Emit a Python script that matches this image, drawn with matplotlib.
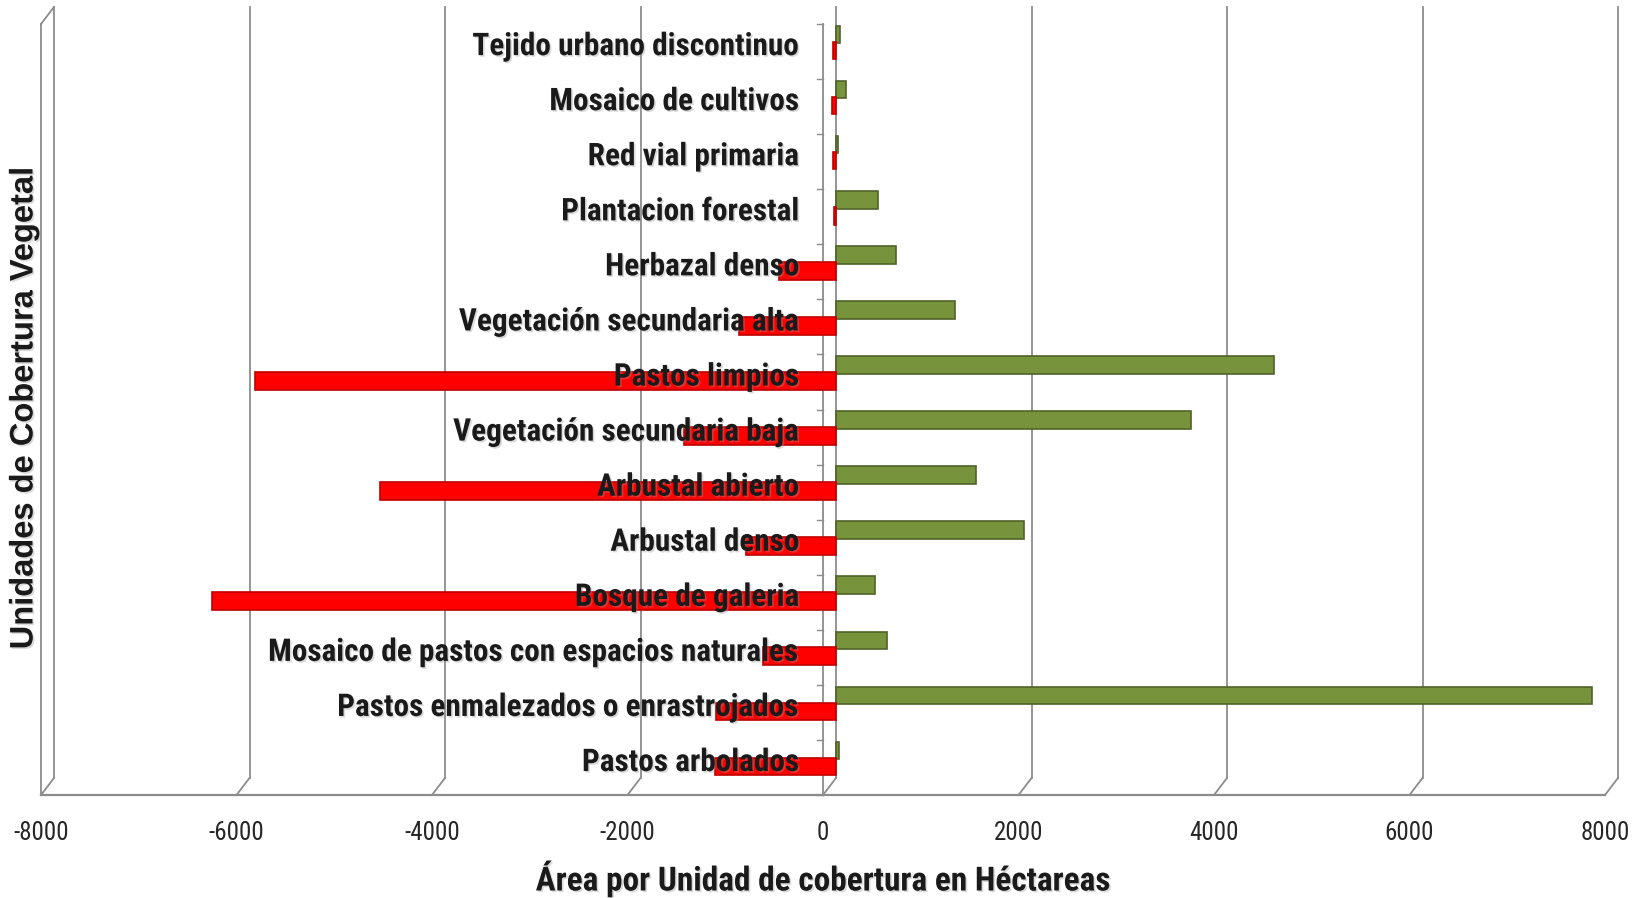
import matplotlib
matplotlib.use('Agg')
import matplotlib.pyplot as plt
import matplotlib.patheffects as pe
from matplotlib.transforms import ScaledTranslation

# categorias (de arriba hacia abajo como en la figura)
categorias = ['Tejido urbano discontinuo', 'Mosaico de cultivos', 'Red vial primaria',
              'Plantacion forestal', 'Herbazal denso', 'Vegetación secundaria alta',
              'Pastos limpios', 'Vegetación secundaria baja', 'Arbustal abierto',
              'Arbustal denso', 'Bosque de galeria', 'Mosaico de pastos con espacios naturales',
              'Pastos enmalezados o enrastrojados', 'Pastos arbolados']
ganancia = [40, 100, 20, 430, 610, 1220, 4480, 3630, 1430, 1920, 400, 520, 7730, 30]
perdida = [-30, -40, -30, -20, -580, -990, -5940, -1550, -4660, -925, -6380, -750, -1230, -1240]
ticks_x = [-8000, -6000, -4000, -2000, 0, 2000, 4000, 6000, 8000]

narrow = ['Roboto Condensed', 'DejaVu Sans']
gris = '#8c8c8c'
sombra = [pe.SimplePatchShadow(offset=(1.2, -1.2), shadow_rgbFace='#9a9a9a', alpha=0.35), pe.Normal()]

fig = plt.figure(figsize=(16.41, 8.98), dpi=100)
ax = fig.add_axes([54/1641, 120/898, 1564/1641, 771/898])

n = len(categorias)
pos = [n - 1 - i for i in range(n)]
ax.barh(pos, ganancia, height=0.32, left=0, color='#77933c', edgecolor='#4f6228',
        linewidth=1.2, zorder=3)
ax.barh([p - 0.29 for p in pos], perdida, height=0.32, left=0, color='#ff0000',
        edgecolor='#c00000', linewidth=1.2, zorder=4)

for p, cat in zip(pos, categorias):
    ax.text(-370, p - 0.21, cat, ha='right', va='center', fontsize=22.5,
            fontweight='bold', family=narrow, color='#1a1a1a', zorder=6,
            path_effects=sombra)

ax.set_xlim(-8000, 8000)
ax.set_ylim(-0.5, n - 0.5)

# plano frontal (efecto 3D de excel)
front = ax.transData + ScaledTranslation(-0.13, -0.17, fig.dpi_scale_trans)
y0, y1 = -0.5, n - 0.5
for x in ticks_x:
    ax.plot([x, x], [y0, y1], color=gris, lw=1.3, zorder=1, clip_on=False)
ax.plot([ticks_x[0], ticks_x[-1]], [y0, y0], color=gris, lw=1.6, transform=front, clip_on=False)
for x in ticks_x:
    # conector diagonal piso
    p_back = ax.transData.transform((x, y0))
    p_front = front.transform((x, y0))
    fig.add_artist(plt.Line2D([p_back[0]/fig.bbox.width, p_front[0]/fig.bbox.width],
                              [p_back[1]/fig.bbox.height, p_front[1]/fig.bbox.height],
                              color=gris, lw=1.3))
# pared izquierda
ax.plot([ticks_x[0], ticks_x[0]], [y0, y1], color=gris, lw=1.3, transform=front, clip_on=False)
pb = ax.transData.transform((ticks_x[0], y1))
pf = front.transform((ticks_x[0], y1))
fig.add_artist(plt.Line2D([pb[0]/fig.bbox.width, pf[0]/fig.bbox.width],
                          [pb[1]/fig.bbox.height, pf[1]/fig.bbox.height], color=gris, lw=1.3))

# eje vertical en cero con marcas entre categorias
ax.plot([0, 0], [y0, y1], color=gris, lw=1.3, transform=front, clip_on=False, zorder=2)
for b in range(n + 1):
    yb = b - 0.5
    ax.plot([-60, 0], [yb, yb], color=gris, lw=1.0, transform=front, clip_on=False, zorder=2)

for s in ax.spines.values():
    s.set_visible(False)
ax.set_yticks([])
ax.set_xticks(ticks_x)
ax.set_xticklabels([str(t) for t in ticks_x], fontsize=18, family=narrow, color='#262626')
ax.tick_params(axis='x', length=0, pad=31)
for lab in ax.get_xticklabels():
    lab.set_transform(lab.get_transform() + ScaledTranslation(-0.13, 0, fig.dpi_scale_trans))

fig.text(824/1641, 1 - 879/898, 'Área por Unidad de cobertura en Héctareas', ha='center',
         va='center', fontsize=24, fontweight='bold', family=narrow, color='#1a1a1a',
         path_effects=sombra)
fig.text(24/1641, 1 - 408/898, 'Unidades de Cobertura Vegetal', ha='center', va='center',
         rotation=90, fontsize=23.5, fontweight='bold', family=['Liberation Sans', 'DejaVu Sans'],
         color='#1a1a1a', path_effects=sombra)

fig.savefig('out.png', dpi=100)
